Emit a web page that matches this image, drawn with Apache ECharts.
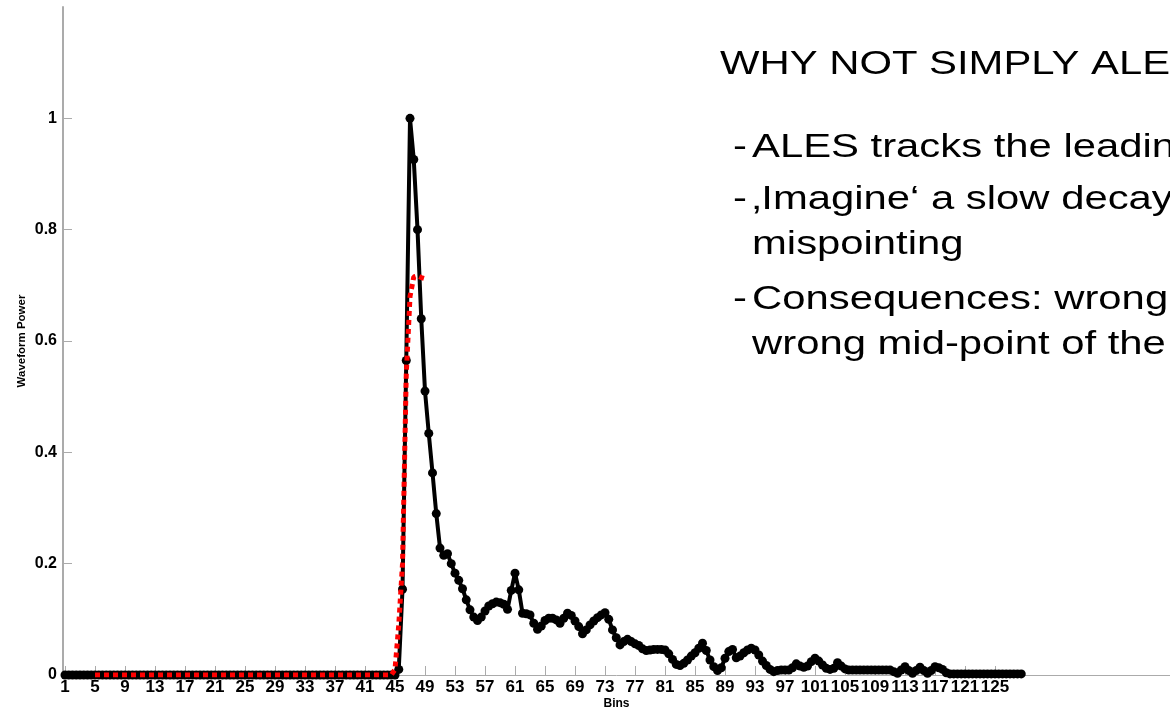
<!DOCTYPE html>
<html>
<head>
<meta charset="utf-8">
<script src="https://cdn.jsdelivr.net/npm/echarts@6/dist/echarts.min.js"></script>
<style>
html,body{margin:0;padding:0;background:#ffffff;}
#chart{width:1170px;height:714px;}
</style>
</head>
<body>
<div id="chart"></div>
<script>
// ---- data ----
const xTickLabels = [1,5,9,13,17,21,25,29,33,37,41,45,49,53,57,61,65,69,73,77,81,85,89,93,97,101,105,109,113,117,121,125];
const yTickLabels = [0,0.2,0.4,0.6,0.8,1];
const binStart = 1;
const binStep = 0.5;
// measured waveform (black), one value per half bin from bin 1 to 128.5
const waveformPower = [
  0,0,0,0,0,0,0,0, 0,0,0,0,0,0,0,0, 0,0,0,0,0,0,0,0, 0,0,0,0,0,0,0,0,
  0,0,0,0,0,0,0,0, 0,0,0,0,0,0,0,0, 0,0,0,0,0,0,0,0, 0,0,0,0,0,0,0,0,
  0,0,0,0,0,0,0,0, 0,0,0,0,0,0,0,0, 0,0,0,0,0,0,0,0,
  0, 0.01, 0.154, 0.565, 1.0, 0.926, 0.80, 0.64, 0.51, 0.434,
  0.363, 0.29, 0.228, 0.215, 0.218, 0.2, 0.183, 0.17, 0.155, 0.135,
  0.117, 0.104, 0.098, 0.104, 0.115, 0.124, 0.128, 0.131, 0.13, 0.127,
  0.118, 0.152, 0.183, 0.153, 0.111, 0.11, 0.108, 0.093, 0.082, 0.088,
  0.098, 0.102, 0.102, 0.099, 0.093, 0.102, 0.111, 0.107, 0.097, 0.087,
  0.074, 0.081, 0.09, 0.097, 0.103, 0.108, 0.112, 0.1, 0.081, 0.067,
  0.054, 0.06, 0.064, 0.06, 0.056, 0.053, 0.047, 0.044, 0.045, 0.046,
  0.046, 0.046, 0.045, 0.038, 0.028, 0.019, 0.017, 0.021, 0.027, 0.034,
  0.04, 0.048, 0.057, 0.044, 0.027, 0.015, 0.008, 0.013, 0.03, 0.042,
  0.046, 0.031, 0.034, 0.04, 0.045, 0.048, 0.045, 0.036, 0.025, 0.017,
  0.01, 0.006, 0.008, 0.009, 0.009, 0.009, 0.013, 0.02, 0.016, 0.014,
  0.016, 0.024, 0.03, 0.025, 0.018, 0.012, 0.01, 0.012, 0.022, 0.016,
  0.011, 0.009, 0.009, 0.009, 0.009, 0.009, 0.009, 0.009, 0.009, 0.009, 0.009, 0.009, 0.009,
  0.006, 0.003, 0.009, 0.015, 0.008, 0.003, 0.008, 0.014, 0.008, 0.003, 0.008, 0.015, 0.013, 0.01, 0.004,
  0.002, 0.002, 0.002, 0.002, 0.002, 0.002, 0.002, 0.002, 0.002, 0.002,
  0.002, 0.002, 0.002, 0.002, 0.002, 0.002, 0.002, 0.002, 0.002, 0.002
];
// ALES fit (red dotted)
const aleFitBins   = [5, 44.5, 45, 45.5, 46, 46.5, 47, 47.5, 48, 48.5, 49];
const aleFitValues = [0, 0, 0.01, 0.09, 0.2, 0.54, 0.68, 0.715, 0.717, 0.714, 0.712];

const slideTitle = 'WHY NOT SIMPLY ALES';
const slideBullets = [
  {dash: true,  text: 'ALES tracks the leading'},
  {dash: true,  text: '\u201AImagine\u2018 a slow decay'},
  {dash: false, text: 'mispointing'},
  {dash: true,  text: 'Consequences: wrong'},
  {dash: false, text: 'wrong mid-point of the'}
];

// ---- build ----
const blackData = waveformPower.map((v, i) => [binStart + i * binStep, v]);
const redData = aleFitBins.map((b, i) => [b, aleFitValues[i]]);

const FONT = '"Liberation Sans", Arial, Helvetica, sans-serif';
const STRETCH = 1.23;
const bulletY = [148, 200, 245, 300, 345];

const graphics = [];
graphics.push({
  type: 'text', x: 720, y: 65, scaleX: STRETCH, z: 100,
  style: {text: slideTitle, font: '34px ' + FONT, fill: '#000', verticalAlign: 'middle', align: 'left'}
});
slideBullets.forEach((b, i) => {
  if (b.dash) {
    graphics.push({
      type: 'text', x: 733, y: bulletY[i], scaleX: STRETCH, z: 100,
      style: {text: '-', font: '34px ' + FONT, fill: '#000', verticalAlign: 'middle', align: 'left'}
    });
  }
  graphics.push({
    type: 'text', x: 752, y: bulletY[i], scaleX: STRETCH, z: 100,
    style: {text: b.text, font: '34px ' + FONT, fill: '#000', verticalAlign: 'middle', align: 'left'}
  });
});

const chart = echarts.init(document.getElementById('chart'), null, {renderer: 'canvas'});
const axisGrey = '#ababab';
chart.setOption({
  animation: false,
  backgroundColor: '#ffffff',
  grid: {left: 63, right: 0, top: 7, bottom: 39, containLabel: false, outerBoundsMode: 'none'},
  xAxis: {
    type: 'value',
    min: 0.733,
    max: 148.33,
    name: 'Bins',
    nameLocation: 'middle',
    nameGap: 23,
    nameMoveOverlap: false,
    nameTextStyle: {fontFamily: FONT, fontWeight: 'bold', fontSize: 12, color: '#000'},
    axisLine: {show: true, lineStyle: {color: axisGrey, width: 1}},
    axisTick: {show: true, inside: true, length: 9, customValues: xTickLabels, lineStyle: {color: axisGrey}},
    axisLabel: {show: true, customValues: xTickLabels, margin: 4, fontFamily: FONT, fontWeight: 'bold', fontSize: 17, color: '#000'},
    splitLine: {show: false}
  },
  yAxis: {
    type: 'value',
    min: 0,
    max: 1.2,
    name: 'Waveform Power',
    nameLocation: 'middle',
    nameGap: 35,
    nameMoveOverlap: false,
    nameTextStyle: {fontFamily: FONT, fontWeight: 'bold', fontSize: 11.5, color: '#000'},
    axisLine: {show: true, lineStyle: {color: axisGrey, width: 2}},
    axisTick: {show: true, inside: true, length: 9, customValues: yTickLabels, lineStyle: {color: axisGrey}},
    axisLabel: {show: true, customValues: yTickLabels, margin: 6, fontFamily: FONT, fontWeight: 'bold', fontSize: 16, color: '#000'},
    splitLine: {show: false}
  },
  series: [
    {
      type: 'line',
      data: blackData,
      showAllSymbol: true,
      symbol: 'circle',
      symbolSize: 9,
      itemStyle: {color: '#000'},
      lineStyle: {color: '#000', width: 4},
      z: 2
    },
    {
      type: 'line',
      data: redData,
      showSymbol: false,
      lineStyle: {color: '#ff0000', width: 5, type: [5, 4]},
      z: 3
    }
  ],
  graphic: graphics
});
</script>
</body>
</html>
